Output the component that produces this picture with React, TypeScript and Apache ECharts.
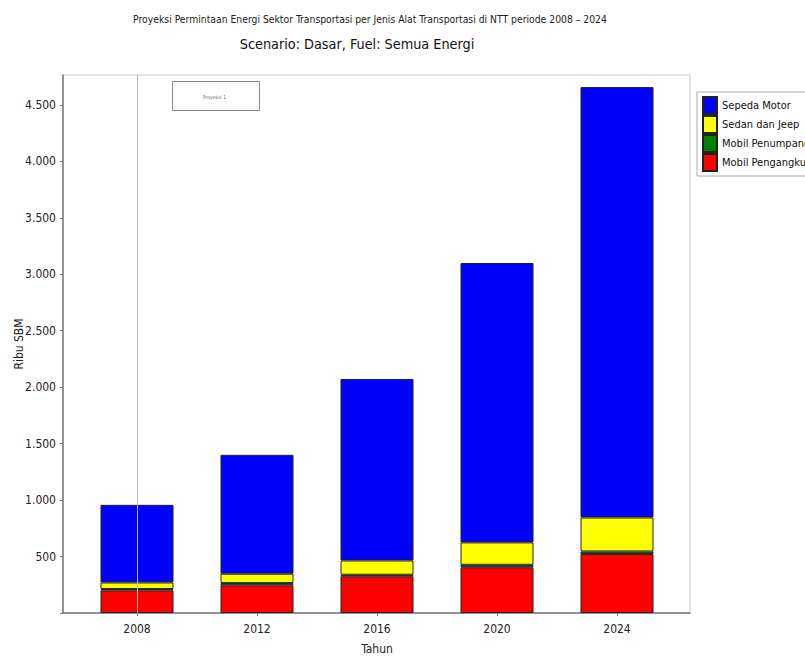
import React, { useEffect, useRef } from "react";
import * as echarts from "echarts";

const years = ["2008", "2012", "2016", "2020", "2024"];
const mobilPengangkut = [200, 245, 325, 405, 522];
const mobilPenumpang = [12, 20, 14, 22, 23];
const sedanJeep = [58, 83, 126, 198, 301];
const sepedaMotor = [688, 1053, 1608, 2475, 3812];

const legendOrder = ["Sepeda Motor", "Sedan dan Jeep", "Mobil Penumpang", "Mobil Pengangkut"];

const FONT = "'DejaVu Sans Condensed', 'DejaVu Sans', sans-serif";
const Y_MAX = 4765;

function fmt(v: number): string {
  if (v === 0 || v % 500 !== 0) return "";
  return Math.round(v).toString().replace(/\B(?=(\d{3})+(?!\d))/g, ".");
}

export default function App() {
  const ref = useRef<HTMLDivElement>(null);
  useEffect(() => {
    if (!ref.current) return;
    const chart = echarts.init(ref.current, null, { renderer: "svg" });
    const mk = (name: string, arr: number[], color: string) => ({
      name,
      type: "bar",
      stack: "total",
      xAxisIndex: 0,
      yAxisIndex: 0,
      barWidth: 73,
      data: arr,
      itemStyle: { color, borderColor: "#222", borderWidth: 1 },
    });
    const blue: any = mk("Sepeda Motor", sepedaMotor, "#0000FF");
    blue.markLine = {
      silent: true,
      symbol: "none",
      label: { show: false },
      lineStyle: { color: "#bbbbbb", width: 1, type: "solid" },
      data: [{ xAxis: 0 }],
    };
    chart.setOption({
      animation: false,
      backgroundColor: "#ffffff",
      textStyle: { fontFamily: FONT },
      title: [
        {
          text: "Proyeksi Permintaan Energi Sektor Transportasi per Jenis Alat Transportasi di NTT periode 2008 – 2024",
          left: 365,
          top: 9,
          textAlign: "center",
          textStyle: { fontSize: 10.3, fontWeight: "normal", color: "#222", fontFamily: FONT },
        },
        {
          text: "Scenario: Dasar, Fuel: Semua Energi",
          left: 352,
          top: 32,
          textAlign: "center",
          textStyle: { fontSize: 14.3, fontWeight: "normal", color: "#111", fontFamily: FONT },
        },
      ],
      legend: {
        orient: "vertical",
        left: 697,
        top: 92,
        itemWidth: 14,
        itemHeight: 17,
        itemGap: 0,
        padding: [4, 40, 4, 5],
        borderColor: "#aaaaaa",
        borderWidth: 1,
        icon: "rect",
        data: legendOrder,
        textStyle: { fontSize: 11, color: "#111", fontFamily: FONT },
      },
      grid: [
        { left: 77, right: 128, top: 75, bottom: 44, outerBoundsMode: "none" },
        {
          left: 63,
          right: 115,
          top: 75,
          bottom: 44,
          outerBoundsMode: "none",
          show: true,
          borderColor: "#c8c8c8",
          borderWidth: 1,
          backgroundColor: "transparent",
        },
      ],
      xAxis: [
        {
          gridIndex: 0,
          type: "category",
          data: years,
          name: "Tahun",
          nameLocation: "middle",
          nameGap: 30,
          nameMoveOverlap: false,
          nameTextStyle: { fontSize: 12, color: "#222", fontFamily: FONT },
          axisLine: { show: false },
          axisTick: { show: true, alignWithLabel: true, length: 3, lineStyle: { color: "#777" } },
          axisLabel: { fontSize: 12, color: "#222", margin: 10 },
          splitLine: { show: false },
        },
        {
          gridIndex: 1,
          type: "value",
          min: 0,
          max: 1,
          axisLine: { show: true, lineStyle: { color: "#777", width: 1.5 } },
          axisTick: { show: false },
          axisLabel: { show: false },
          splitLine: { show: false },
        },
      ],
      yAxis: [
        { gridIndex: 0, type: "value", min: 0, max: Y_MAX, show: false, splitLine: { show: false } },
        {
          gridIndex: 1,
          type: "value",
          min: 0,
          max: Y_MAX,
          interval: 500,
          name: "Ribu SBM",
          nameLocation: "middle",
          nameGap: 38,
          nameMoveOverlap: false,
          nameTextStyle: { fontSize: 12, color: "#222", fontFamily: FONT },
          axisLine: { show: true, lineStyle: { color: "#777", width: 1.5 } },
          axisTick: { show: true, length: 3, lineStyle: { color: "#777" } },
          axisLabel: { fontSize: 12, color: "#222", margin: 7, formatter: fmt, showMaxLabel: false },
          splitLine: { show: false },
        },
      ],
      graphic: [
        {
          type: "rect",
          left: 172,
          top: 81,
          shape: { width: 87, height: 29 },
          style: { fill: "#ffffff", stroke: "#888888", lineWidth: 1 },
        },
        {
          type: "text",
          left: 203,
          top: 94,
          style: { text: "Proyeksi 1", fontSize: 5, fill: "#666", fontFamily: FONT },
        },
      ],
      series: [
        mk("Mobil Pengangkut", mobilPengangkut, "#FF0000"),
        mk("Mobil Penumpang", mobilPenumpang, "#008000"),
        mk("Sedan dan Jeep", sedanJeep, "#FFFF00"),
        blue,
      ],
    });
    return () => chart.dispose();
  }, []);
  return <div ref={ref} style={{ width: 805, height: 657, position: "absolute", left: 0, top: 0 }} />;
}
